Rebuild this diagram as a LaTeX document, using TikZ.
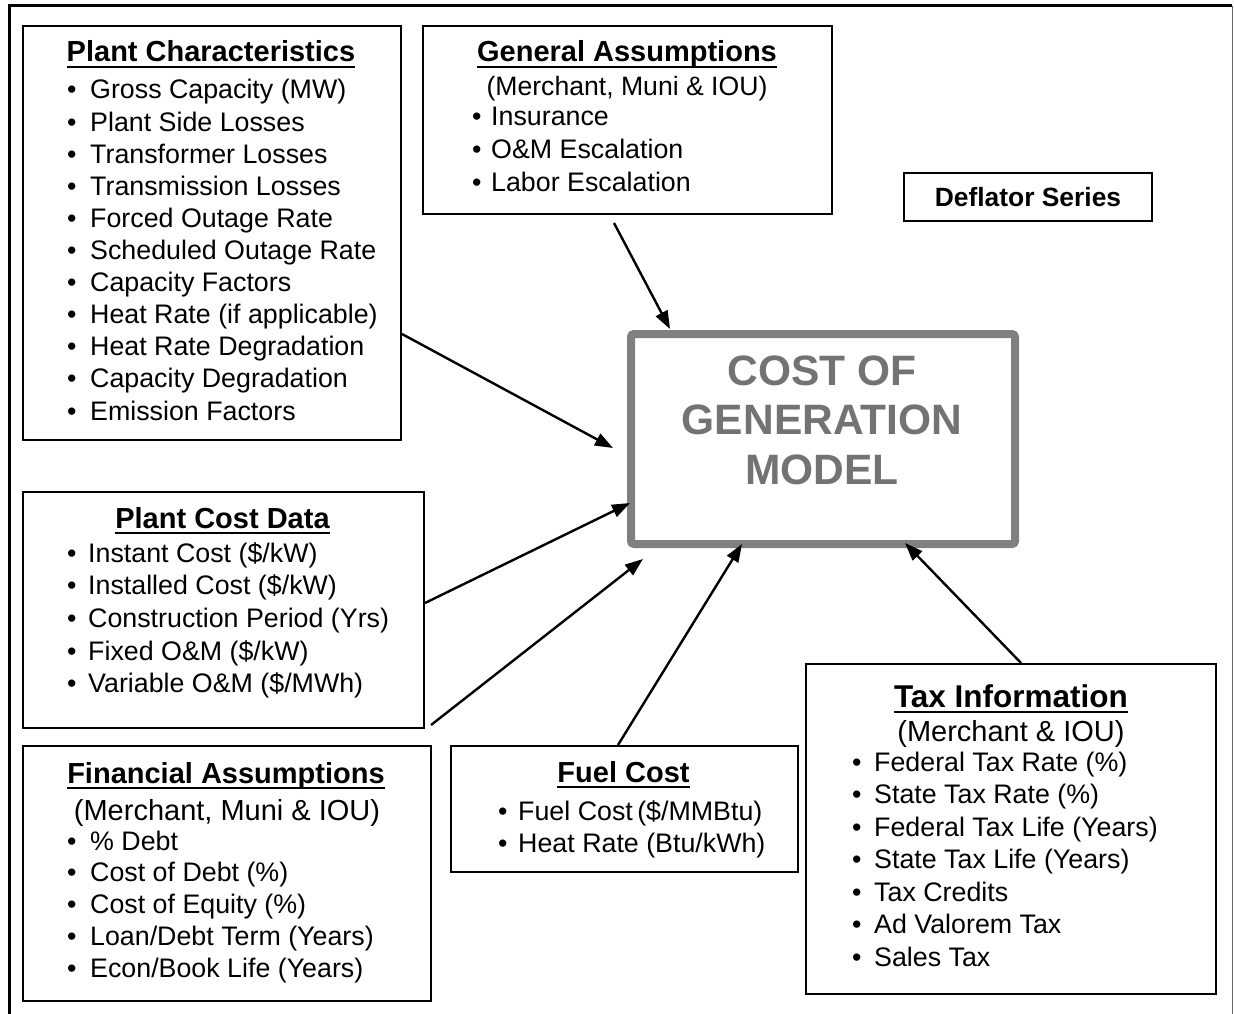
\documentclass[tikz,border=0pt]{standalone}
\usepackage{fontspec}
\setmainfont{Liberation Sans}
\usetikzlibrary{arrows.meta}
\newcommand{\myitems}[6]{%
  \foreach[count=\i] \txt in {#6} {%
    \node[itm] (#1\i) at (#2,{#4+#5*(\i-1)}) {\makebox[#3pt][l]{\textbullet}\txt};}}
\begin{document}
\begin{tikzpicture}[x=1pt,y=-1pt,
  box/.style={draw, line width=2pt, anchor=north west, inner sep=0pt},
  ttl/.style={anchor=base, inner sep=0pt, font=\fontsize{29}{34}\selectfont\bfseries},
  sub/.style={anchor=base, inner sep=0pt, font=\fontsize{29}{34}\selectfont},
  itm/.style={anchor=base west, inner sep=0pt, font=\fontsize{26.8}{32}\selectfont},
  uline/.style={line width=2.4pt},
  arr/.style={line width=2.4pt, -{Triangle[length=18pt,width=13pt]}},
]
\useasboundingbox (0,0) rectangle (1234,1014);
% outer frame
\draw[line width=3pt] (9,1014) -- (9,6) -- (1232,6);
\draw[line width=1.2pt, black!60] (1232.5,6) -- (1232.5,1014);

% boxes
\node[box, minimum width=378pt, minimum height=414pt] (pchar) at (22,25) {};
\node[box, minimum width=409pt, minimum height=188pt] (genas) at (422,25) {};
\node[draw, line width=2pt, minimum width=248pt, minimum height=48pt, inner sep=0pt,
      font=\fontsize{26.4}{30}\selectfont\bfseries] (defl) at (1028,197) {Deflator Series};
\node[box, minimum width=401pt, minimum height=236pt] (pcost) at (22,491) {};
\node[box, minimum width=408pt, minimum height=255pt] (fin) at (22,745) {};
\node[box, minimum width=347pt, minimum height=126pt] (fuel) at (450,745) {};
\node[box, minimum width=410pt, minimum height=330pt] (tax) at (805,663) {};

% central model
\node[draw=black!50, line width=8pt, rounded corners=3pt, minimum width=384pt,
      minimum height=210pt, inner sep=0pt] (model) at (823,439) {};
\node[inner sep=0pt, align=center, text=black!55,
      font=\fontsize{42.5}{49.5}\selectfont\bfseries] (modeltxt) at (822,420)
      {COST OF\\GENERATION\\MODEL};

% titles
\node[ttl] (t1) at (211,62) {Plant Characteristics};
\node[ttl] (t2) at (627,62) {General Assumptions};
\node[ttl] (t3) at (222.5,528) {Plant Cost Data};
\node[ttl] (t4) at (226,783) {Financial Assumptions};
\node[ttl] (t5) at (623.5,782) {Fuel Cost};
\node[ttl, font=\fontsize{31.5}{36}\selectfont\bfseries] (t6) at (1011,707) {Tax Information};
\foreach \n in {t1,t2,t3,t4,t5}
  \draw[uline] ([yshift=-5pt]\n.base west) -- ([yshift=-5pt]\n.base east);
\draw[uline] ([yshift=-5pt]t6.base west) -- ([yshift=-5pt]t6.base east);

% subtitles
\node[sub, font=\fontsize{26.6}{32}\selectfont] (s2) at (627,96) {(Merchant, Muni \& IOU)};
\node[sub] (s4) at (227,820) {(Merchant, Muni \& IOU)};
\node[sub] (s6) at (1011,741) {(Merchant \& IOU)};

% item lists
\myitems{pc}{67}{23}{99}{32.1}{Gross Capacity (MW), Plant Side Losses, Transformer Losses,
  Transmission Losses, Forced Outage Rate, Scheduled Outage Rate, Capacity Factors,
  Heat Rate (if applicable), Heat Rate Degradation, Capacity Degradation, Emission Factors}
\myitems{ga}{472}{19}{126}{32.5}{Insurance, O\&M Escalation, Labor Escalation}
\myitems{cd}{67}{21}{562}{32.7}{Instant Cost (\$/kW), Installed Cost (\$/kW),
  Construction Period (Yrs), Fixed O\&M (\$/kW), Variable O\&M (\$/MWh)}
\myitems{fa}{67}{23}{850}{31.8}{\% Debt, Cost of Debt (\%), Cost of Equity (\%),
  Loan/Debt Term (Years), Econ/Book Life (Years)}
\myitems{fc}{498}{20}{820}{32}{Fuel Cost\,(\$/MMBtu), Heat Rate (Btu/kWh)}
\myitems{ti}{852}{22}{771}{32.5}{Federal Tax Rate (\%), State Tax Rate (\%),
  Federal Tax Life (Years), State Tax Life (Years), Tax Credits, Ad Valorem Tax, Sales Tax}

% arrows
\draw[arr] ([xshift=-13.5pt,yshift=-8pt]genas.south) -- ([xshift=-153pt,yshift=1pt]model.north);
\draw[arr] ([yshift=-101pt]pchar.east) -- ([xshift=-14pt,yshift=-9pt]model.west);
\draw[arr] ([yshift=7pt]pcost.east) -- ([xshift=3pt,yshift=-64pt]model.west);
\draw[arr] ([xshift=6pt,yshift=4pt]pcost.south east) -- ([xshift=16pt,yshift=-11pt]model.south west);
\draw[arr] ([xshift=-6.5pt]fuel.north) -- ([xshift=-81pt,yshift=4pt]model.south);
\draw[arr] ([xshift=10pt]tax.north) -- ([xshift=82pt,yshift=5pt]model.south);
\end{tikzpicture}
\end{document}
